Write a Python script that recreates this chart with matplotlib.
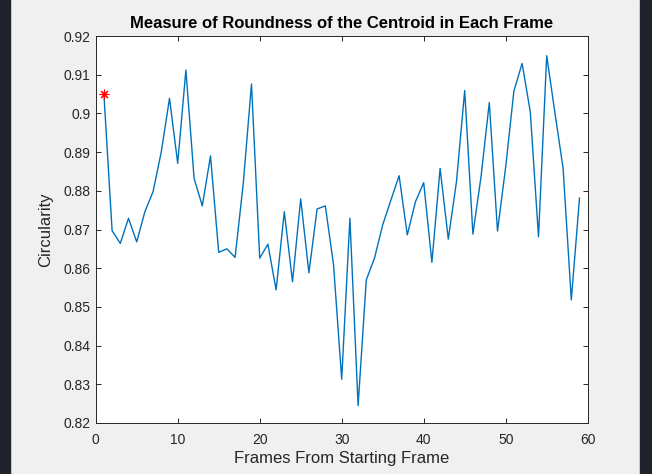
#!/usr/bin/env python3

import numpy as np
import matplotlib
matplotlib.use("Agg")
import matplotlib.pyplot as plt
from matplotlib.patches import Rectangle

plt.rcParams['font.family'] = ['Liberation Sans', 'DejaVu Sans']

# circularity per frame
frames = np.arange(1, 60)
circularity = [
    0.905, 0.8697, 0.8664, 0.8729, 0.8668, 0.8746, 0.8798, 0.8901, 0.9039, 0.8871,
    0.9112, 0.8832, 0.8761, 0.889, 0.8641, 0.865, 0.8628, 0.882, 0.9076, 0.8626,
    0.8662, 0.8544, 0.8746, 0.8565, 0.8779, 0.8588, 0.8753, 0.8761, 0.861, 0.8313,
    0.8729, 0.8245, 0.857, 0.8626, 0.8712, 0.8776, 0.8839, 0.8686, 0.8772, 0.8821,
    0.8615, 0.8858, 0.8675, 0.8824, 0.9059, 0.8688, 0.8838, 0.9028, 0.8696, 0.8862,
    0.9058, 0.9129, 0.9004, 0.8681, 0.9149, 0.9002, 0.8858, 0.8518, 0.8781,
]
start_frame = 1
start_value = 0.905

xticks = [0, 10, 20, 30, 40, 50, 60]
yticks = [0.82, 0.83, 0.84, 0.85, 0.86, 0.87, 0.88, 0.89, 0.90, 0.91, 0.92]
yticklabels = ['0.82', '0.83', '0.84', '0.85', '0.86', '0.87', '0.88', '0.89', '0.9', '0.91', '0.92']

txt = '#262626'

fig = plt.figure(figsize=(6.52, 4.74), dpi=100, facecolor='#f0f0f0')
# dark window edges left and right
fig.patches.append(Rectangle((0, 0), 10 / 652, 1, transform=fig.transFigure,
                             color='#1f232a', zorder=0))
fig.patches.append(Rectangle((640 / 652, 0), 12 / 652, 1, transform=fig.transFigure,
                             color='#1f232a', zorder=0))

ax = fig.add_axes([95.7 / 652, 1 - 423 / 474, 492 / 652, 387 / 474])
ax.set_facecolor('white')

ax.plot(frames, circularity, color='#0072BD', lw=1.0)
ax.plot(start_frame, start_value, marker=(8, 2, 0), color='red', ms=7, mew=0.8, ls='none')

ax.set_xlim(0, 60)
ax.set_ylim(0.82, 0.92)
ax.set_xticks(xticks)
ax.set_yticks(yticks)
ax.set_yticklabels(yticklabels)

ax.tick_params(direction='in', top=True, right=True, length=3.5, width=0.7,
               colors=txt, labelsize=10)
ax.tick_params(axis='x', pad=7)
ax.tick_params(axis='y', pad=4)
for s in ax.spines.values():
    s.set_color(txt)
    s.set_linewidth(0.7)

ax.set_title('Measure of Roundness of the Centroid in Each Frame',
             fontsize=12, fontweight='bold', color='black', pad=6)
ax.set_xlabel('Frames From Starting Frame', fontsize=12, color=txt, labelpad=3)
ax.set_ylabel('Circularity', fontsize=12, color=txt, labelpad=7)

fig.savefig('out.png', dpi=100, facecolor=fig.get_facecolor())
